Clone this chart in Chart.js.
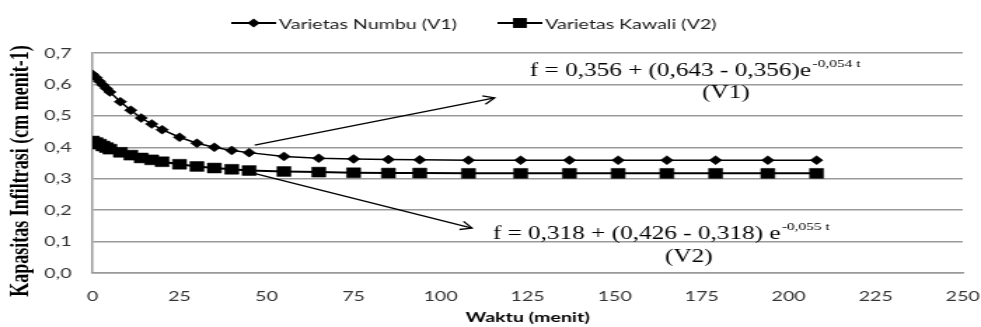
<!DOCTYPE html>
<html lang="id">
<head>
<meta charset="UTF-8">
<title>Kapasitas Infiltrasi</title>
<script src="https://cdn.jsdelivr.net/npm/chart.js"></script>
<style>
  html, body { margin: 0; padding: 0; background: #fff; overflow: hidden; }
  /* the source figure is stretched sideways, so draw it narrow and widen it */
  #wrap { width: 700px; height: 327px; transform: scaleX(1.4014); transform-origin: 0 0; }
  canvas { display: block; }
</style>
</head>
<body>
<div id="wrap"><canvas id="chart" width="700" height="327"></canvas></div>
<script>
// time (menit) of each reading, shared by both varieties
const waktu = [0, 1, 2, 3, 4, 5, 8, 11, 14, 17, 20, 25, 30, 35, 40, 45, 55, 65, 75, 85, 94, 108, 123, 137, 151, 165, 179, 194, 208];
// infiltration capacity (cm menit-1)
const numbu = [0.632, 0.622, 0.610, 0.598, 0.587, 0.576, 0.545, 0.518, 0.493, 0.474, 0.456, 0.432, 0.413, 0.400, 0.390, 0.383, 0.371, 0.365, 0.363, 0.361, 0.360, 0.359, 0.359, 0.359, 0.359, 0.359, 0.359, 0.359, 0.359];
const kawali = [0.420, 0.415, 0.410, 0.404, 0.399, 0.394, 0.384, 0.375, 0.366, 0.360, 0.354, 0.346, 0.339, 0.334, 0.330, 0.326, 0.323, 0.321, 0.319, 0.318, 0.318, 0.317, 0.317, 0.317, 0.317, 0.317, 0.317, 0.317, 0.317];

const seriesNames = ['Varietas Numbu (V1)', 'Varietas Kawali (V2)'];
const xTicks = [0, 25, 50, 75, 100, 125, 150, 175, 200, 225, 250];
const yTicks = [0, 0.1, 0.2, 0.3, 0.4, 0.5, 0.6, 0.7];
const xTitle = 'Waktu (menit)';
const yTitle = 'Kapasitas Infiltrasi (cm menit-1)';

// fitted equations beside the curves (anchors in data units)
const notes = [
  { main: 'f = 0,356 + (0,643 - 0,356)e', sup: '-0,054 t', label: '(V1)', at: [125.6, 0.627], labelAt: [182, 0.557] },
  { main: 'f = 0,318 + (0,426 - 0,318) e', sup: '-0,055 t', label: '(V2)', at: [115, 0.108], labelAt: [171.3, 0.035] }
];
const arrows = [
  { from: [46.6, 0.407], to: [115.5, 0.557] },
  { from: [45, 0.321], to: [109, 0.143] }
];

const GRID = '#9a9a9a';
const tickFont = { family: 'Lato', size: 14 };

function toXY(ys) {
  return waktu.map((t, i) => ({ x: t, y: ys[i] }));
}

function marker(ctx, style, x, y, r) {
  ctx.beginPath();
  if (style === 'rectRot') {
    ctx.moveTo(x - r, y); ctx.lineTo(x, y - r); ctx.lineTo(x + r, y); ctx.lineTo(x, y + r);
  } else {
    const s = r * Math.SQRT1_2;
    ctx.rect(x - s, y - s, 2 * s, 2 * s);
  }
  ctx.closePath();
  ctx.fill();
}

const extras = {
  id: 'extras',
  afterDatasetsDraw(chart) {
    const { ctx, scales: { x, y } } = chart;
    ctx.save();
    ctx.strokeStyle = '#000';
    ctx.lineWidth = 1.3;
    arrows.forEach(a => {
      const x0 = x.getPixelForValue(a.from[0]), y0 = y.getPixelForValue(a.from[1]);
      const x1 = x.getPixelForValue(a.to[0]), y1 = y.getPixelForValue(a.to[1]);
      ctx.beginPath(); ctx.moveTo(x0, y0); ctx.lineTo(x1, y1); ctx.stroke();
      const ang = Math.atan2(y1 - y0, x1 - x0);
      ctx.beginPath();
      ctx.moveTo(x1 - 9 * Math.cos(ang - 0.5), y1 - 9 * Math.sin(ang - 0.5));
      ctx.lineTo(x1, y1);
      ctx.lineTo(x1 - 9 * Math.cos(ang + 0.5), y1 - 9 * Math.sin(ang + 0.5));
      ctx.stroke();
    });

    ctx.fillStyle = '#000';
    ctx.textBaseline = 'alphabetic';
    notes.forEach(n => {
      const px = x.getPixelForValue(n.at[0]), py = y.getPixelForValue(n.at[1]);
      ctx.textAlign = 'left';
      ctx.font = '18px "Liberation Serif"';
      ctx.fillText(n.main, px, py);
      const w = ctx.measureText(n.main).width;
      ctx.font = '11px "Liberation Serif"';
      ctx.fillText(n.sup, px + w + 1, py - 9);
      ctx.font = '18px "Liberation Serif"';
      ctx.textAlign = 'center';
      ctx.fillText(n.label, x.getPixelForValue(n.labelAt[0]), y.getPixelForValue(n.labelAt[1]));
    });
    ctx.restore();
  },
  afterDraw(chart) {
    const { ctx } = chart;
    ctx.save();
    // legend
    const items = [
      { left: 165, style: 'rectRot', r: 4.5 },
      { left: 355, style: 'rect', r: 7 }
    ];
    const ly = 23;
    ctx.strokeStyle = '#000';
    ctx.fillStyle = '#000';
    ctx.lineWidth = 2;
    ctx.font = '14px Lato';
    ctx.textAlign = 'left';
    ctx.textBaseline = 'middle';
    items.forEach((it, i) => {
      ctx.beginPath(); ctx.moveTo(it.left, ly); ctx.lineTo(it.left + 32, ly); ctx.stroke();
      marker(ctx, it.style, it.left + 16, ly, it.r);
      ctx.fillStyle = '#1a1a1a';
      ctx.fillText(seriesNames[i], it.left + 34, ly + 1);
      ctx.fillStyle = '#000';
    });
    // y axis title
    ctx.translate(15.7, 171);
    ctx.rotate(-Math.PI / 2);
    ctx.font = 'bold 18px "Liberation Serif"';
    ctx.textAlign = 'center';
    ctx.fillText(yTitle, 0, 0);
    ctx.restore();
  }
};

new Chart(document.getElementById('chart'), {
  type: 'line',
  data: {
    datasets: [{
      label: seriesNames[0],
      data: toXY(numbu),
      borderColor: '#000',
      borderWidth: 1.5,
      pointStyle: 'rectRot',
      pointRadius: 4.5,
      pointBackgroundColor: '#000',
      pointBorderColor: '#000',
      pointBorderWidth: 0.5,
      tension: 0
    }, {
      label: seriesNames[1],
      data: toXY(kawali),
      borderColor: '#000',
      borderWidth: 2,
      pointStyle: 'rect',
      pointRadius: 7,
      pointBackgroundColor: '#000',
      pointBorderColor: '#000',
      pointBorderWidth: 0.5,
      tension: 0
    }]
  },
  options: {
    responsive: false,
    animation: false,
    layout: { padding: { left: 0, right: 13, top: 53, bottom: 0 } },
    plugins: { legend: { display: false }, tooltip: { enabled: false } },
    scales: {
      x: {
        type: 'linear',
        min: 0,
        max: 250,
        afterBuildTicks: s => { s.ticks = xTicks.map(v => ({ value: v })); },
        afterFit: s => { s.height = 54; s.paddingLeft = 0; s.paddingRight = 0; },
        grid: { display: false, drawTicks: false },
        border: { display: true, color: GRID, width: 1.5 },
        ticks: { padding: 15, font: tickFont, color: '#333', maxRotation: 0, autoSkip: false },
        title: { display: true, text: xTitle, color: '#000', font: { family: 'Lato', size: 14, weight: 'bold' }, padding: { top: 0, bottom: 1 } }
      },
      y: {
        min: 0,
        max: 0.7,
        afterBuildTicks: s => { s.ticks = yTicks.map(v => ({ value: v })); },
        afterFit: s => { s.width = 66; s.paddingTop = 0; s.paddingBottom = 0; },
        grid: { color: GRID, lineWidth: 1.5, drawTicks: false },
        border: { color: GRID, width: 1.5 },
        ticks: { padding: 15, font: tickFont, color: '#333', callback: v => v.toFixed(1).replace('.', ',') }
      }
    }
  },
  plugins: [extras]
});
</script>
</body>
</html>
